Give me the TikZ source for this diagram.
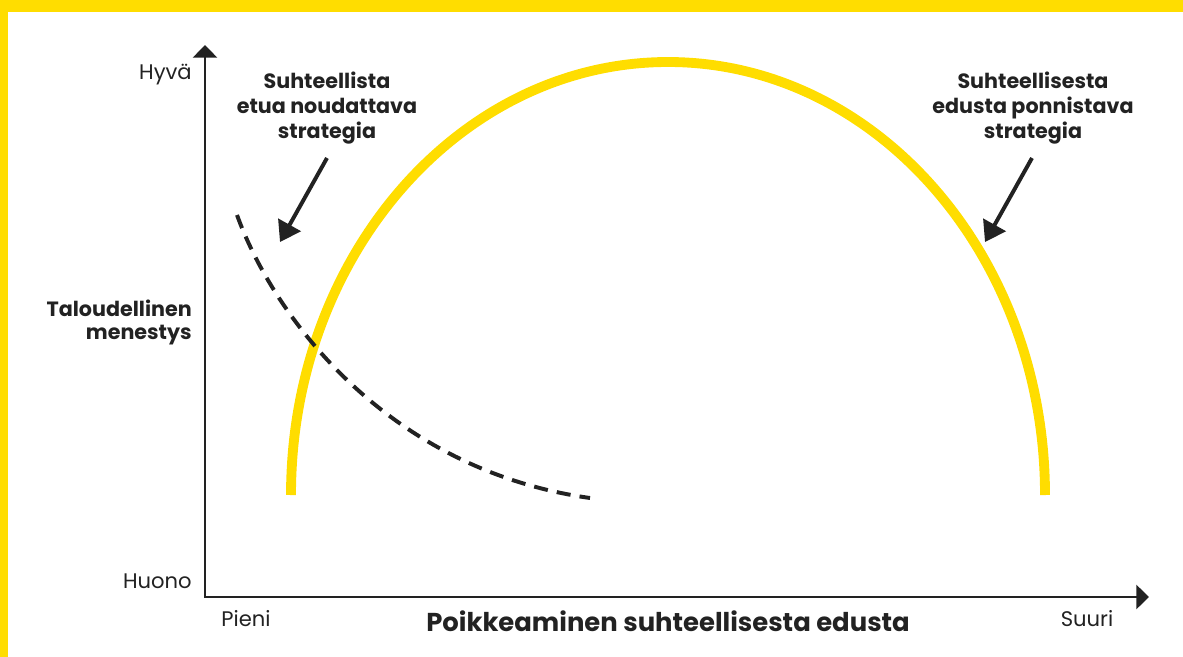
\documentclass[tikz,border=0pt]{standalone}
\usepackage{fontspec}
\setmainfont{Poppins}
\usetikzlibrary{arrows.meta}
\definecolor{sunyellow}{HTML}{FFDD00}
\definecolor{ink}{HTML}{222222}
\begin{document}
\begin{tikzpicture}[x=0.025cm,y=-0.025cm,
   axis/.style={ink,line width=2.1pt,{Triangle[length=9pt,width=17pt]}-{Triangle[length=9pt,width=17pt]}},
   pointer/.style={ink,line width=2.8pt,-{Triangle[length=14pt,width=18pt]}},
   arcline/.style={sunyellow,line width=7pt},
   trend/.style={ink,line width=2.8pt,dash pattern=on 10pt off 6.5pt},
   lbl/.style={ink,font=\fontsize{15}{17}\selectfont,inner sep=0pt},
   hdr/.style={ink,font=\fontsize{14.7}{17.8}\selectfont\bfseries,align=center,inner sep=0pt}]
   \path[use as bounding box] (0,0) rectangle (1183,657);
   \fill[sunyellow] (0,0) rectangle (1183,12);
   \fill[sunyellow] (0,0) rectangle (8,657);
   % axes
   \coordinate (ytop) at (205,45);
   \coordinate (origin) at (205,597);
   \coordinate (xend) at (1149,597);
   \draw[axis] (ytop) -- (origin) -- (xend);
   \node[lbl,anchor=east] (good) at (192,75) {Hyvä};
   \node[lbl,anchor=east] (bad) at (192,581) {Huono};
   \node[lbl] (small) at (246,619) {Pieni};
   \node[lbl] (large) at (1087,619) {Suuri};
   \node[hdr,anchor=east,align=right,font=\fontsize{14.7}{16.4}\selectfont\bfseries] (yname) at (192,322) {Taloudellinen\\menestys};
   \node[hdr,font=\fontsize{18.4}{21}\selectfont\bfseries] (xname) at (668,621) {Poikkeaminen suhteellisesta edusta};
   % curves
   \draw[arcline] (291,495) arc[start angle=180,end angle=360,x radius=377,y radius=433];
   \coordinate (t0) at (237,215);
   \coordinate (t1) at (590,498);
   \draw[trend] (t0) .. controls (275,320) and (390,470) .. (t1);
   % strategies
   \node[hdr] (follow) at (327,108) {Suhteellista\\etua noudattava\\strategia};
   \node[hdr] (depart) at (1033,108) {Suhteellisesta\\edusta ponnistava\\strategia};
   \coordinate (fa) at (327,158);
   \coordinate (fb) at (280,242);
   \coordinate (da) at (1032,158);
   \coordinate (db) at (985,242);
   \draw[pointer] (fa) -- (fb);
   \draw[pointer] (da) -- (db);
\end{tikzpicture}
\end{document}
